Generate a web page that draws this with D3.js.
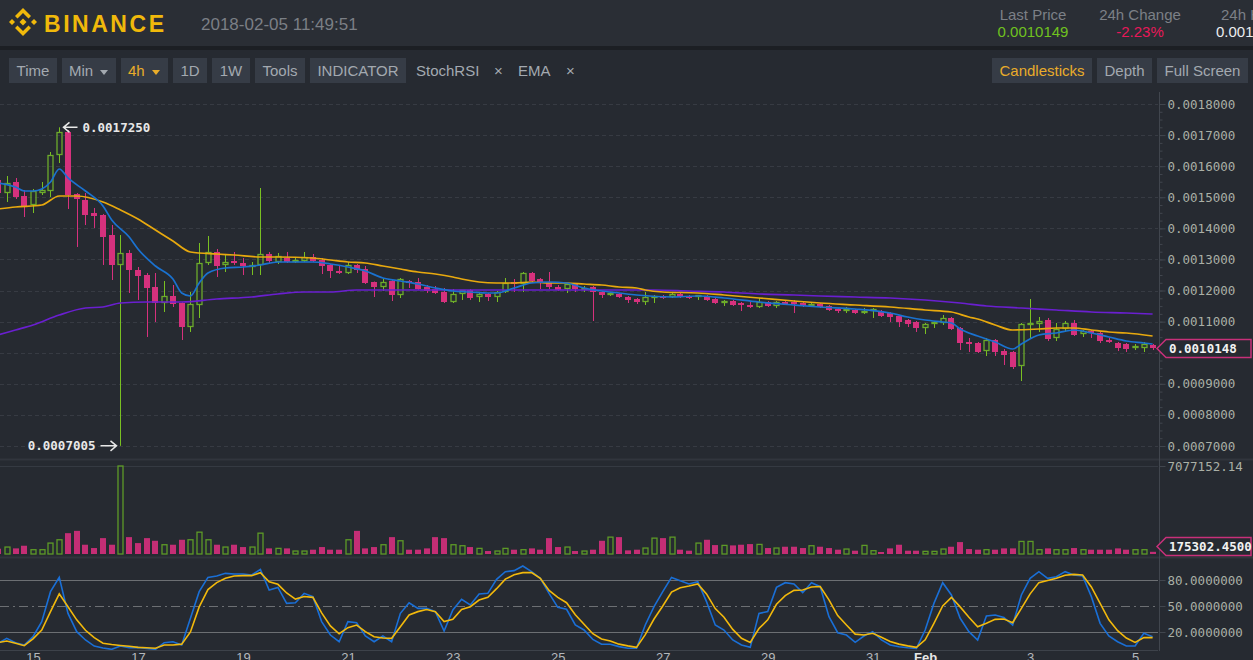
<!DOCTYPE html>
<html>
<head>
<meta charset="utf-8">
<script src="https://cdnjs.cloudflare.com/ajax/libs/d3/7.8.5/d3.min.js"></script>
<style>
  body { margin: 0; background: #262a31; overflow: hidden; }
  svg { display: block; }
</style>
</head>
<body>
<div id="canvas"></div>
<script>
/* global d3 */

// BNB/BTC-ish 4h candles, prices in units of 1e-7 BTC: [open, high, low, close]
const firstOpen = Date.UTC(2018, 0, 14, 8)
const candleHours = 4
const candles = [
  [15555,15620,15073,15137],[15137,15684,14848,15459],[15491,15620,14944,15009],[15041,15234,14365,14687],
  [14751,15266,14494,15202],[15137,15491,15073,15234],[15202,16456,15009,16360],[16360,17250,16102,17099],
  [17099,17164,14623,15073],[15105,15137,13401,14944],[14912,15137,14108,14430],[14494,14655,14012,14398],
  [14430,14460,12822,13722],[13786,14108,12339,12822],[12822,13786,7005,13207],[13207,13304,11921,12661],
  [12661,12757,11696,12468],[12500,12564,10506,12082],[12114,12564,10988,11599],[11599,12307,11310,11824],
  [11824,12178,11470,11567],[11599,11620,10409,10827],[10827,11953,10667,11567],[11535,13529,11117,12886],
  [12886,13754,12822,13240],[13240,13336,12436,12789],[12822,13143,12596,12918],[12950,13240,12822,12886],
  [12886,13047,12500,12789],[12757,12918,12500,12822],[12822,15298,12500,13175],[13175,13240,12886,12950],
  [12918,13207,12854,13111],[13047,13240,12886,12918],[12918,13047,12886,12982],[12950,13240,12918,13079],
  [13079,13175,12918,12950],[12982,13047,12532,12789],[12822,12854,12403,12629],[12629,12789,12532,12564],
  [12564,12918,12532,12822],[12822,12854,12564,12661],[12693,12789,12210,12243],[12275,12290,11792,12114],
  [12114,12371,11985,12275],[12307,12339,11663,11856],[11856,12403,11760,12371],[12307,12339,12082,12275],
  [12275,12403,12017,12049],[12114,12178,11921,11985],[12049,12146,11889,11921],[11953,12082,11599,11631],
  [11631,12049,11599,11889],[11889,12017,11696,12017],[12017,12049,11696,11760],[11792,11953,11631,11889],
  [11889,11921,11663,11792],[11792,11985,11631,11953],[11953,12403,11921,12243],[12275,12371,11953,12210],
  [12210,12596,11953,12564],[12564,12596,12243,12307],[12371,12403,12049,12275],[12275,12596,12049,12114],
  [12114,12178,11985,12017],[12049,12243,11921,12210],[12210,12243,11953,12049],[12049,12146,11953,12082],
  [12114,12146,11020,11953],[11953,11985,11760,11856],[11889,11953,11824,11921],[11889,11921,11760,11792],
  [11792,11824,11599,11696],[11728,11760,11567,11631],[11631,11953,11535,11792],[11792,11856,11599,11824],
  [11824,11856,11728,11760],[11792,11953,11760,11889],[11889,11921,11760,11792],[11824,11856,11728,11760],
  [11792,11856,11696,11856],[11824,11856,11663,11696],[11728,11760,11567,11599],[11631,11696,11503,11663],
  [11663,11696,11503,11535],[11599,11631,11342,11535],[11535,11631,11438,11470],[11470,11760,11438,11631],
  [11631,11663,11470,11503],[11503,11663,11438,11631],[11631,11663,11567,11599],[11631,11696,11277,11599],
  [11599,11631,11470,11503],[11503,11599,11470,11567],[11567,11599,11438,11470],[11503,11535,11342,11374],
  [11406,11438,11277,11342],[11342,11470,11277,11406],[11374,11406,11245,11277],[11277,11438,11245,11342],
  [11342,11438,11117,11406],[11342,11374,11149,11181],[11277,11310,10988,11149],[11181,11213,10827,10988],
  [11052,11085,10827,10924],[10988,11020,10667,10795],[10795,10956,10602,10924],[10924,11020,10795,10988],
  [10956,11213,10892,11117],[11117,11149,10731,10763],[10795,10827,10087,10313],[10345,10474,10023,10313],
  [10313,10345,9991,10023],[10055,10474,9894,10409],[10409,10441,9894,10023],[10055,10120,9605,9927],
  [10023,10055,9476,9541],[9573,10956,9090,10924],[10924,11728,10441,10956],[10924,11149,10667,11020],
  [11052,11117,10377,10441],[10474,10956,10377,10763],[10763,11020,10667,10956],[10956,11052,10538,10570],
  [10602,10731,10506,10699],[10699,10731,10474,10634],[10634,10667,10313,10377],[10409,10474,10313,10345],
  [10313,10345,10055,10152],[10280,10313,10023,10120],[10152,10280,10087,10216],[10152,10345,10023,10280],
  [10248,10280,10087,10148]
]

const volumes = [
  425000,559000,452000,665000,346000,346000,878000,1144000,1676000,1862000,745000,479000,1277000,745000,
  7077152.14,1357000,878000,1277000,1064000,745000,745000,1144000,1144000,1756000,1144000,745000,559000,745000,
  559000,559000,1676000,452000,452000,452000,239000,239000,346000,559000,346000,346000,1144000,1862000,
  452000,559000,745000,1357000,1064000,346000,346000,452000,1357000,1277000,745000,665000,559000,452000,
  239000,239000,452000,346000,346000,452000,346000,1277000,559000,559000,239000,239000,346000,1064000,
  1357000,1357000,293000,346000,479000,1277000,1277000,1357000,346000,266000,878000,1144000,718000,692000,
  692000,745000,798000,771000,479000,479000,585000,585000,479000,665000,585000,479000,346000,399000,
  266000,692000,266000,160000,452000,745000,266000,266000,213000,213000,399000,585000,958000,399000,
  346000,346000,346000,452000,452000,1011000,1011000,346000,452000,346000,346000,479000,346000,346000,
  346000,346000,452000,346000,346000,346000,175302.45
]

// EMA lines: [candle index, price * 1e7]
const emaFast = [
  [0,15459],[2,15330],[3,15202],[4,15202],[5,15266],[6,15491],[7,15909],[8,15620],[10,15202],[12,14719],
  [13,14269],[15,13722],[16,13336],[18,12789],[20,12371],[21,11921],[22,11824],[23,12243],[24,12564],
  [26,12725],[28,12757],[30,12822],[32,12918],[36,12918],[38,12854],[40,12757],[42,12629],[44,12403],
  [46,12307],[48,12210],[50,12082],[52,11985],[54,11953],[56,11921],[57,11921],[59,12082],[61,12243],
  [63,12275],[65,12243],[67,12082],[69,11985],[71,11921],[73,11856],[77,11792],[80,11824],[83,11760],
  [87,11631],[91,11535],[94,11470],[98,11406],[102,11277],[104,11149],[106,11052],[108,10988],[109,10956],
  [110,10763],[112,10538],[114,10345],[116,10120],[117,10280],[119,10570],[121,10634],[123,10731],
  [125,10634],[127,10506],[129,10377],[131,10313],[132,10280]
]
const emaMid = [
  [0,14623],[2,14687],[5,14751],[7,15041],[9,15041],[12,14848],[14,14591],[16,14301],[18,13947],[20,13593],
  [22,13240],[25,13175],[27,13143],[30,13079],[32,13079],[36,13047],[38,12982],[40,12918],[42,12886],
  [44,12789],[46,12693],[48,12596],[50,12532],[52,12436],[53,12371],[55,12275],[57,12243],[59,12243],
  [61,12275],[63,12243],[65,12243],[67,12210],[69,12178],[71,12114],[73,12082],[74,12017],[76,11953],
  [80,11921],[83,11856],[87,11760],[91,11663],[94,11599],[98,11535],[102,11470],[106,11374],[109,11310],
  [111,11149],[112,11085],[114,10892],[116,10731],[119,10763],[121,10795],[123,10795],[125,10731],
  [127,10667],[129,10634],[132,10538]
]
const emaSlow = [
  [0,10570],[2,10731],[4,10892],[7,11213],[10,11438],[12,11470],[14,11599],[17,11631],[21,11631],
  [25,11728],[29,11792],[32,11889],[35,11953],[38,11953],[41,12017],[48,12017],[55,12017],[63,12017],
  [71,12017],[75,12017],[79,11985],[83,11953],[87,11889],[91,11856],[94,11824],[98,11792],[102,11760],
  [106,11696],[110,11599],[113,11503],[117,11438],[121,11374],[125,11310],[129,11277],[132,11245]
]

// StochRSI per candle
const stochK = [
  7,12.7,7.7,5,14.6,32,66.5,83,41.5,20.4,10.8,3.8,1.5,0,3.8,2,2.3,1,0,7.7,8.8,5,35.8,66.5,83,84.6,87.7,87,
  86.9,85.8,92.3,68.5,71.5,53,53.8,64.6,60.8,32,16.5,8.8,32,30.8,15.4,8.8,15.4,8.8,41.5,53.8,47.3,47.3,
  43.5,21.2,45.4,57.7,51.2,63.8,64.6,80.8,89.6,90.8,96.2,89.6,81.9,64.6,48.5,46.2,28.1,22.3,11.5,5.8,5.8,
  3.1,1.2,1.2,28.1,49.2,66.5,83,79.2,75.4,78,55,28.1,22.3,10.8,5,2.3,41.5,43.5,71.5,76.9,75.4,65.4,76.9,
  72.3,37.7,19.2,16.5,8.1,15.4,20.4,10.8,5,3,1.9,1.2,22.3,53,76.9,62.7,35.8,20.4,10.8,38.4,39.6,36.9,28.1,
  62.7,81.9,89.6,81.9,83.8,89.6,85.8,84.6,60.8,30,15.4,8.8,3.8,3.8,18.5,14.6
]
const stochD = [
  7.7,9.6,7,4.2,12,22.3,43.5,64,49.2,34,22,13.5,7,5.5,4.5,3.5,2.3,1.8,1.2,5,5,6,20,49,69,77,82,84.6,85,85,
  88.5,78,75,65,58,61,60,42,27,18,25,28,20.4,14.6,13,12.7,26,39.6,43.5,46,43.5,32,34.6,46,49.2,56.9,60,70,
  81,86,88.5,88.5,82,68,60,53.8,40,29,18,12,9.6,6,4,2.3,17,35,50,66,71,73,75.4,64,47,37,23,12.7,8,24,34,
  52,62,68,68.5,72,72.5,57,39,28,17.5,16.5,18.5,14,9,6,4,2.3,11,30,50,60,49,37,26,30,34.6,35,30.8,47.3,
  64,77,79.5,82,85.5,86.5,85.8,72,53,34,21.5,13,8,13.5,13.5
]

const priceTicks = d3.range(7000, 18001, 1000)
const stochLevels = [20, 50, 80]
const volumeMax = 7077152.14
const lastPrice = 10148

const W = 1253, H = 660
const bg = '#262a31'
const pink = '#d6317d', green = '#6cab2b', greenWick = '#79c022'
const axisText = '#aab0a6'
const mono = '"DejaVu Sans Mono", monospace'
const sans = '"Liberation Sans", Arial, sans-serif'

const svg = d3.select('#canvas').append('svg')
  .attr('width', W).attr('height', H)
  .style('background', bg)

// ---------- header ----------
svg.append('rect').attr('width', W).attr('height', 46).attr('fill', '#2a2e35')
svg.append('rect').attr('y', 46).attr('width', W).attr('height', 4).attr('fill', '#1c1f24')

const gold = '#f0b90b'
const logo = svg.append('g').attr('fill', gold)
logo.append('path').attr('d', 'M23 18.5 L26.5 22 L23 25.5 L19.5 22 Z')
logo.append('path').attr('d', 'M12 19 L15 22 L12 25 L9 22 Z')
logo.append('path').attr('d', 'M34 19 L37 22 L34 25 L31 22 Z')
logo.append('path').attr('d', 'M23 8 L31 16 L28.5 18.5 L23 13 L17.5 18.5 L15 16 Z')
logo.append('path').attr('d', 'M23 36 L31 28 L28.5 25.5 L23 31 L17.5 25.5 L15 28 Z')
svg.append('text').text('BINANCE')
  .attr('x', 44).attr('y', 32)
  .attr('textLength', 120).attr('lengthAdjust', 'spacing')
  .attr('font-family', '"Liberation Sans", Arial, sans-serif').attr('font-weight', 'bold')
  .attr('font-size', '23px').attr('fill', gold)
svg.append('text').text('2018-02-05 11:49:51')
  .attr('x', 201).attr('y', 30)
  .attr('font-family', sans).attr('font-size', '17px').attr('fill', '#7b7f85')

const stats = [
  {label: 'Last Price', value: '0.0010149', color: '#70c21f', x: 1033, anchor: 'middle'},
  {label: '24h Change', value: '-2.23%', color: '#e8185a', x: 1140, anchor: 'middle'},
  {label: '24h High', value: '0.001', color: '#eaecef', x: 1216, anchor: 'start'}
]
stats.forEach(s => {
  svg.append('text').text(s.label)
    .attr('x', s.anchor === 'start' ? s.x + 5 : s.x).attr('y', 20)
    .attr('text-anchor', s.anchor)
    .attr('font-family', sans).attr('font-size', '15px').attr('fill', '#7c8087')
  svg.append('text').text(s.value)
    .attr('x', s.x).attr('y', 37)
    .attr('text-anchor', s.anchor)
    .attr('font-family', sans).attr('font-size', '15px').attr('fill', s.color)
})

// ---------- toolbar ----------
const buttons = [
  {t: 'Time', x0: 9, x1: 57}, {t: 'Min', x0: 62, x1: 116, caret: true},
  {t: '4h', x0: 121, x1: 168, caret: true, active: true}, {t: '1D', x0: 173, x1: 207},
  {t: '1W', x0: 212, x1: 250}, {t: 'Tools', x0: 255, x1: 305}, {t: 'INDICATOR', x0: 310, x1: 406},
  {t: 'Candlesticks', x0: 992, x1: 1092, active: true}, {t: 'Depth', x0: 1097, x1: 1152},
  {t: 'Full Screen', x0: 1157, x1: 1248}
]
buttons.forEach(b => {
  svg.append('rect').attr('x', b.x0).attr('y', 58).attr('width', b.x1 - b.x0).attr('height', 25)
    .attr('fill', '#363c46')
  const col = b.active ? '#e9ac2a' : '#a3a9b0'
  const tx = b.caret ? b.x0 + 7 : (b.x0 + b.x1) / 2
  svg.append('text').text(b.t)
    .attr('x', tx).attr('y', 76)
    .attr('text-anchor', b.caret ? 'start' : 'middle')
    .attr('font-family', sans).attr('font-size', '15px').attr('fill', col)
  if (b.caret) {
    const cx = b.x1 - 12
    svg.append('path').attr('d', `M${cx - 4} 70 L${cx + 4} 70 L${cx} 75 Z`).attr('fill', col)
  }
})
const chips = [{t: 'StochRSI', x: 416}, {t: '×', x: 494}, {t: 'EMA', x: 518}, {t: '×', x: 566}]
chips.forEach(c => {
  svg.append('text').text(c.t).attr('x', c.x).attr('y', 76)
    .attr('font-family', sans).attr('font-size', '15px').attr('fill', '#a3a9b0')
})

// ---------- scales ----------
const plotRight = 1158
const x = d3.scaleUtc()
  .domain([new Date(Date.UTC(2018, 0, 15)), new Date(Date.UTC(2018, 1, 5))])
  .range([33, 1135.1])
const tAt = i => new Date(firstOpen + i * candleHours * 3600e3)
const cx = i => Math.round(x(tAt(i))) + 0.5

const y = d3.scaleLinear().domain([7000, 18000]).range([446, 104])
const vy = d3.scaleLinear().domain([0, volumeMax]).range([554, 466])
const sy = d3.scaleLinear().domain([20, 80]).range([632, 580])

const defs = svg.append('defs')
defs.append('clipPath').attr('id', 'clipMain').append('rect')
  .attr('x', 0).attr('y', 92).attr('width', plotRight).attr('height', 366)
defs.append('clipPath').attr('id', 'clipStoch').append('rect')
  .attr('x', 0).attr('y', 560).attr('width', plotRight).attr('height', 90)

// ---------- pane frames ----------
svg.append('line').attr('x1', 0).attr('x2', W).attr('y1', 459.5).attr('y2', 459.5)
  .attr('stroke', '#31353d').attr('stroke-width', 2)
svg.append('line').attr('x1', 0).attr('x2', plotRight).attr('y1', 466.5).attr('y2', 466.5)
  .attr('stroke', '#353a42')
svg.append('line').attr('x1', 0).attr('x2', W).attr('y1', 557.5).attr('y2', 557.5)
  .attr('stroke', '#31353d').attr('stroke-width', 2)
svg.append('line').attr('x1', 0).attr('x2', plotRight).attr('y1', 650.5).attr('y2', 650.5)
  .attr('stroke', '#3d424a')
svg.append('line').attr('x1', 1159.5).attr('x2', 1159.5).attr('y1', 92).attr('y2', 651)
  .attr('stroke', '#41464e')

// ---------- main pane ----------
svg.append('g').selectAll('line').data(priceTicks).join('line')
  .attr('x1', 0).attr('x2', plotRight)
  .attr('y1', d => Math.round(y(d)) + 0.5).attr('y2', d => Math.round(y(d)) + 0.5)
  .attr('stroke', '#373b43').attr('stroke-dasharray', '4,3')

// the last-price tag hides any axis label it would sit on
const labelTicks = priceTicks.filter(d => Math.abs(y(d) - y(lastPrice)) > 12)
const priceAxis = svg.append('g').attr('transform', 'translate(1159.5,0)')
  .call(d3.axisRight(y).tickValues(labelTicks).tickSize(6).tickPadding(2)
    .tickFormat(d => (d / 1e7).toFixed(7)))
priceAxis.select('.domain').remove()
priceAxis.selectAll('line').attr('stroke', '#41464e')
priceAxis.selectAll('text').attr('fill', axisText).attr('font-family', mono).attr('font-size', '12.5px')
const minorAxis = svg.append('g').attr('transform', 'translate(1159.5,0)')
  .call(d3.axisRight(y).tickValues(d3.range(7000, 18001, 250)).tickSize(3).tickFormat(''))
minorAxis.select('.domain').remove()
minorAxis.selectAll('line').attr('stroke', '#41464e')

const main = svg.append('g').attr('clip-path', 'url(#clipMain)')
const candleG = main.selectAll('g.candle').data(candles).join('g').attr('class', 'candle')
candleG.each(function (d, i) {
  const g = d3.select(this)
  const [o, h, l, c] = d
  const up = c >= o
  const xc = cx(i)
  const top = Math.round(y(Math.max(o, c)))
  const bot = Math.max(top + 1, Math.round(y(Math.min(o, c))))
  if (up) {
    g.append('line').attr('x1', xc).attr('x2', xc).attr('y1', y(h)).attr('y2', top)
      .attr('stroke', greenWick)
    g.append('line').attr('x1', xc).attr('x2', xc).attr('y1', bot).attr('y2', y(l))
      .attr('stroke', greenWick)
    g.append('rect').attr('x', xc - 2.5).attr('y', top + 0.5).attr('width', 5)
      .attr('height', Math.max(1, bot - top - 1))
      .attr('fill', 'none').attr('stroke', green).attr('stroke-width', 1.3)
  } else {
    g.append('line').attr('x1', xc).attr('x2', xc).attr('y1', y(h)).attr('y2', y(l))
      .attr('stroke', pink)
    g.append('rect').attr('x', xc - 3.5).attr('y', top).attr('width', 6)
      .attr('height', Math.max(2, bot - top)).attr('fill', pink)
  }
})

const emaLine = d3.line().x(d => x(tAt(d[0]))).y(d => y(d[1])).curve(d3.curveMonotoneX)
const emas = [
  {data: emaSlow, color: '#6a1fd0'},
  {data: emaMid, color: '#e8a90e'},
  {data: emaFast, color: '#1a72d0'}
]
emas.forEach(e => {
  main.append('path').datum(e.data).attr('d', emaLine)
    .attr('fill', 'none').attr('stroke', e.color).attr('stroke-width', 1.7)
})

// high / low markers
const hiIdx = d3.maxIndex(candles, d => d[1])
const loIdx = d3.minIndex(candles, d => d[2])
const hx = cx(hiIdx) + 4, hy = y(candles[hiIdx][1])
svg.append('path').attr('d', `M${hx + 14} ${hy} L${hx} ${hy} M${hx + 6} ${hy - 5} L${hx} ${hy} L${hx + 6} ${hy + 5}`)
  .attr('stroke', '#e8e8e8').attr('stroke-width', 1.5).attr('fill', 'none')
svg.append('text').text((candles[hiIdx][1] / 1e7).toFixed(7))
  .attr('x', hx + 19).attr('y', hy + 4.5)
  .attr('font-family', mono).attr('font-size', '12.5px').attr('font-weight', 'bold').attr('fill', '#e8e8e8')
const lx = cx(loIdx) - 4, ly = y(candles[loIdx][2])
svg.append('path').attr('d', `M${lx - 16} ${ly} L${lx} ${ly} M${lx - 6} ${ly - 5} L${lx} ${ly} L${lx - 6} ${ly + 5}`)
  .attr('stroke', '#e8e8e8').attr('stroke-width', 1.5).attr('fill', 'none')
svg.append('text').text((candles[loIdx][2] / 1e7).toFixed(7))
  .attr('x', lx - 21).attr('y', ly + 4.5).attr('text-anchor', 'end')
  .attr('font-family', mono).attr('font-size', '12.5px').attr('font-weight', 'bold').attr('fill', '#e8e8e8')

// value tags on the axis
function tag (ty, label, color) {
  const g = svg.append('g')
  g.append('path')
    .attr('d', `M1157 ${ty} L1166 ${ty - 9} L1251 ${ty - 9} L1251 ${ty + 9} L1166 ${ty + 9} Z`)
    .attr('fill', bg).attr('stroke', color).attr('stroke-width', 1.5)
  g.append('text').text(label).attr('x', 1169).attr('y', ty + 4.5)
    .attr('font-family', mono).attr('font-size', '12.5px').attr('font-weight', 'bold').attr('fill', '#f2f2f2')
}
tag(Math.round(y(lastPrice)) + 0.5, (lastPrice / 1e7).toFixed(7), '#c8307a')

// ---------- volume pane ----------
const volG = svg.append('g')
volG.selectAll('rect').data(volumes).join('rect')
  .attr('x', (d, i) => cx(i) - (candles[i][3] >= candles[i][0] ? 2.5 : 3.5))
  .attr('y', d => Math.min(vy(d), 552))
  .attr('width', (d, i) => candles[i][3] >= candles[i][0] ? 5 : 6)
  .attr('height', d => Math.max(2, 554 - vy(d)))
  .attr('fill', (d, i) => candles[i][3] >= candles[i][0] ? 'none' : '#c42e75')
  .attr('stroke', (d, i) => candles[i][3] >= candles[i][0] ? '#5d9a27' : 'none')
  .attr('stroke-width', 1.3)
const volAxis = svg.append('g').attr('transform', 'translate(1159.5,0)')
  .call(d3.axisRight(vy).tickValues([volumeMax]).tickSize(6).tickPadding(2).tickFormat(d3.format('.2f')))
volAxis.select('.domain').remove()
volAxis.selectAll('line').attr('stroke', '#41464e')
volAxis.selectAll('text').attr('fill', axisText).attr('font-family', mono).attr('font-size', '12.5px')
tag(546.5, volumes[volumes.length - 1].toFixed(4), '#c8307a')

// ---------- StochRSI pane ----------
const stochG = svg.append('g').attr('clip-path', 'url(#clipStoch)')
stochG.selectAll('line').data(stochLevels).join('line')
  .attr('x1', 0).attr('x2', plotRight)
  .attr('y1', d => Math.round(sy(d)) + 0.5).attr('y2', d => Math.round(sy(d)) + 0.5)
  .attr('stroke', '#6c6f73')
  .attr('stroke-dasharray', d => d === 50 ? '9,4,2,4' : null)
const stochLine = d3.line().x((d, i) => x(tAt(i))).y(d => sy(d))
stochG.append('path').datum(stochK).attr('d', stochLine)
  .attr('fill', 'none').attr('stroke', '#1a6fd6').attr('stroke-width', 1.6)
stochG.append('path').datum(stochD).attr('d', stochLine)
  .attr('fill', 'none').attr('stroke', '#f2b90c').attr('stroke-width', 1.6)
const stochAxis = svg.append('g').attr('transform', 'translate(1159.5,0)')
  .call(d3.axisRight(sy).tickValues(stochLevels).tickSize(6).tickPadding(2).tickFormat(d => d.toFixed(7)))
stochAxis.select('.domain').remove()
stochAxis.selectAll('line').attr('stroke', '#41464e')
stochAxis.selectAll('text').attr('fill', axisText).attr('font-family', mono).attr('font-size', '12.5px')

// ---------- time axis ----------
const dayTicks = d3.utcDay.every(2).range(new Date(Date.UTC(2018, 0, 15)), new Date(Date.UTC(2018, 1, 6)))
const timeAxis = svg.append('g').attr('transform', 'translate(0,650)')
  .call(d3.axisBottom(x).tickValues(dayTicks).tickSize(0).tickPadding(3)
    .tickFormat(d => d.getUTCDate() === 1 ? d3.utcFormat('%b')(d) : d3.utcFormat('%-d')(d)))
timeAxis.select('.domain').remove()
timeAxis.selectAll('text')
  .attr('fill', d => d.getUTCDate() === 1 ? '#e6e6e6' : '#b4b8bc')
  .attr('font-weight', d => d.getUTCDate() === 1 ? 'bold' : null)
  .attr('font-family', sans).attr('font-size', '13px')
</script>
</body>
</html>
